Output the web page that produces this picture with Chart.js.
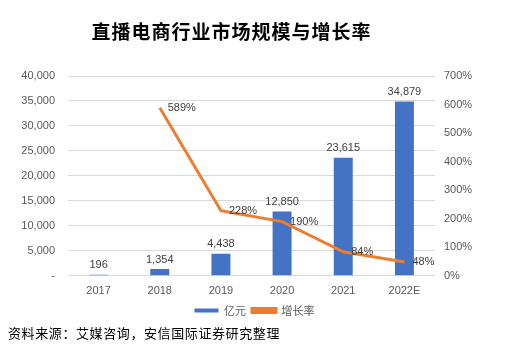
<!DOCTYPE html>
<html><head><meta charset="utf-8">
<script src="https://cdn.jsdelivr.net/npm/chart.js@4"></script>
<style>
html,body{margin:0;padding:0;background:#fff;}
#wrap{position:relative;width:509px;height:356px;}
#title{position:absolute;left:0;top:19px;width:463px;text-align:center;font-family:"Noto Sans CJK SC";font-weight:700;font-size:19px;letter-spacing:1px;color:#000;line-height:24px;}
#src{position:absolute;left:8px;top:324px;font-family:"Noto Sans CJK SC";font-size:13px;color:#000;line-height:18px;letter-spacing:0.6px;}
canvas{position:absolute;left:0;top:0;}
</style></head>
<body><div id="wrap"><canvas id="c" width="509" height="356"></canvas>
<div id="title">直播电商行业市场规模与增长率</div>
<div id="src">资料来源：艾媒咨询，安信国际证券研究整理</div></div>
<script>
const categories = ["2017","2018","2019","2020","2021","2022E"];
const marketSize = [196,1354,4438,12850,23615,34879];
const growthRate = [null,589,228,190,84,48];
const seriesNames = ["亿元","增长率"];

const labelPlugin = {
  id:'vals',
  afterDatasetsDraw(chart){
    const ctx = chart.ctx;
    ctx.save();
    ctx.font = '11px "Liberation Sans", Arial, sans-serif';
    ctx.fillStyle = '#404040';
    const m0 = chart.getDatasetMeta(0);
    m0.data.forEach((el,i)=>{
      ctx.textAlign='center'; ctx.textBaseline='bottom';
      ctx.fillText(marketSize[i].toLocaleString('en-US'), el.x, el.y-4);
    });
    const m1 = chart.getDatasetMeta(1);
    m1.data.forEach((el,i)=>{
      if(growthRate[i]==null) return;
      ctx.textAlign='left'; ctx.textBaseline='middle';
      ctx.fillText(growthRate[i]+'%', el.x+8, el.y);
    });
    ctx.restore();
  }
};

new Chart(document.getElementById('c'),{
  data:{
    labels:categories,
    datasets:[
      {type:'bar',label:seriesNames[0],data:marketSize,backgroundColor:'#4472C4',yAxisID:'y',barPercentage:0.31,categoryPercentage:1,order:2},
      {type:'line',label:seriesNames[1],data:growthRate,borderColor:'#ED7D31',backgroundColor:'#ED7D31',borderWidth:3,pointRadius:0,yAxisID:'y1',tension:0,order:1}
    ]
  },
  options:{
    responsive:false,animation:false,
    layout:{padding:{top:76,bottom:30,left:0,right:0}},
    plugins:{
      legend:{position:'bottom',labels:{sort:(a,b)=>a.datasetIndex-b.datasetIndex,boxWidth:24,boxHeight:4,font:{size:11,family:'"Noto Sans CJK SC"'},color:'#595959',padding:6}},
      tooltip:{enabled:false}
    },
    scales:{
      x:{grid:{display:false},border:{display:false},ticks:{color:'#595959',font:{size:11,family:'"Liberation Sans", Arial, sans-serif'},padding:1}},
      y:{position:'left',min:0,max:40000,ticks:{stepSize:5000,color:'#595959',padding:13,font:{size:11,family:'"Liberation Sans", Arial, sans-serif'},callback:v=>v===0?'-':v.toLocaleString('en-US')},
         grid:{color:'#d9d9d9',drawTicks:false},border:{display:false},afterFit(s){s.width=68;}},
      y1:{position:'right',min:0,max:700,ticks:{stepSize:100,color:'#595959',padding:9,font:{size:11,family:'"Liberation Sans", Arial, sans-serif'},callback:v=>v+'%'},
         grid:{display:false,drawTicks:false},border:{display:false},afterFit(s){s.width=74;}}
    }
  },
  plugins:[labelPlugin]
});
</script></body></html>
